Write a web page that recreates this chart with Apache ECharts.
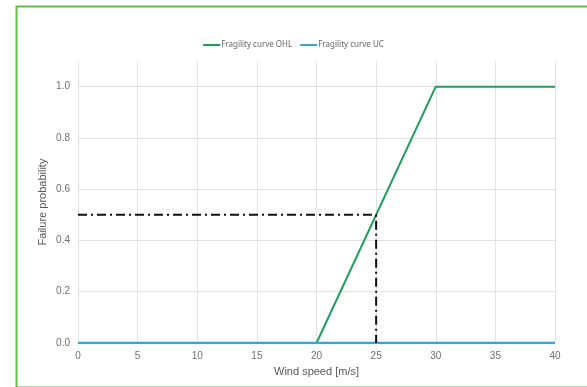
<!DOCTYPE html>
<html>
<head>
<meta charset="utf-8">
<script src="https://cdn.jsdelivr.net/npm/echarts@6/dist/echarts.min.js"></script>
<style>html,body{margin:0;padding:0;background:#fff;}#c{width:587px;height:387px;}</style>
</head>
<body>
<div id="c"></div>
<script>
var seriesNames = ['Fragility curve OHL', 'Fragility curve UC'];
var ohlX = [0, 20, 30, 40];
var ohlY = [0, 0, 1, 1];
var ucX = [0, 40];
var ucY = [0, 0];
var refX = [0, 25, 25];
var refY = [0.5, 0.5, 0];
var xTicks = [0, 5, 10, 15, 20, 25, 30, 35, 40];
var yTicks = [0.0, 0.2, 0.4, 0.6, 0.8, 1.0];

function pairs(xs, ys) { return xs.map(function (x, i) { return [x, ys[i]]; }); }

var chart = echarts.init(document.getElementById('c'), null, { renderer: 'canvas' });
chart.setOption({
  animation: false,
  backgroundColor: '#fff',
  graphic: [{
    type: 'rect', left: 14, top: 4, z: 100,
    shape: { x: 0, y: 0, width: 600, height: 381 },
    style: { fill: 'none', stroke: '#62bf40', lineWidth: 2 }
  }],
  legend: {
    data: seriesNames,
    top: 36, left: 'center',
    itemWidth: 17, itemHeight: 2, itemGap: 8,
    icon: 'rect',
    textStyle: { fontFamily: 'Noto Sans', fontSize: 8, color: '#666', padding: [0, 0, 0, -4] }
  },
  grid: { left: 78, right: 32, top: 61, bottom: 44 },
  xAxis: {
    type: 'value', min: xTicks[0], max: xTicks[xTicks.length - 1], interval: 5,
    name: 'Wind speed [m/s]', nameLocation: 'middle', nameGap: 23,
    nameTextStyle: { fontFamily: 'Liberation Sans', fontSize: 11, color: '#595959' },
    axisLine: { show: false }, axisTick: { show: false },
    axisLabel: { fontFamily: 'Liberation Sans', fontSize: 10, color: '#707070', margin: 8 },
    splitLine: { show: true, lineStyle: { color: '#e2e2e2', width: 1 } }
  },
  yAxis: {
    type: 'value', min: 0, max: 1.1, interval: 0.2,
    name: 'Failure probability', nameLocation: 'middle', nameGap: 30, nameMoveOverlap: false,
    nameTextStyle: { fontFamily: 'Liberation Sans', fontSize: 11, color: '#595959' },
    axisLine: { show: false }, axisTick: { show: false },
    axisLabel: {
      fontFamily: 'Liberation Sans', fontSize: 10, color: '#707070', margin: 8,
      showMaxLabel: false,
      formatter: function (v) { return yTicks.indexOf(Math.round(v * 10) / 10) >= 0 ? v.toFixed(1) : ''; }
    },
    splitLine: { show: true, showMaxLine: false, lineStyle: { color: '#e2e2e2', width: 1 } }
  },
  series: [
    {
      name: seriesNames[0], type: 'line', data: pairs(ohlX, ohlY),
      symbol: 'none', lineStyle: { color: '#1f9e5c', width: 2 }, itemStyle: { color: '#1f9e5c' }, z: 3
    },
    {
      name: seriesNames[1], type: 'line', data: pairs(ucX, ucY),
      symbol: 'none', lineStyle: { color: '#32a8d6', width: 2.5 }, itemStyle: { color: '#32a8d6' }, z: 4
    },
    {
      name: 'ref', type: 'line', data: pairs(refX, refY),
      symbol: 'none', lineStyle: { color: '#111', width: 2, type: [9, 4, 2, 4] }, z: 5, silent: true
    }
  ]
});
</script>
</body>
</html>
